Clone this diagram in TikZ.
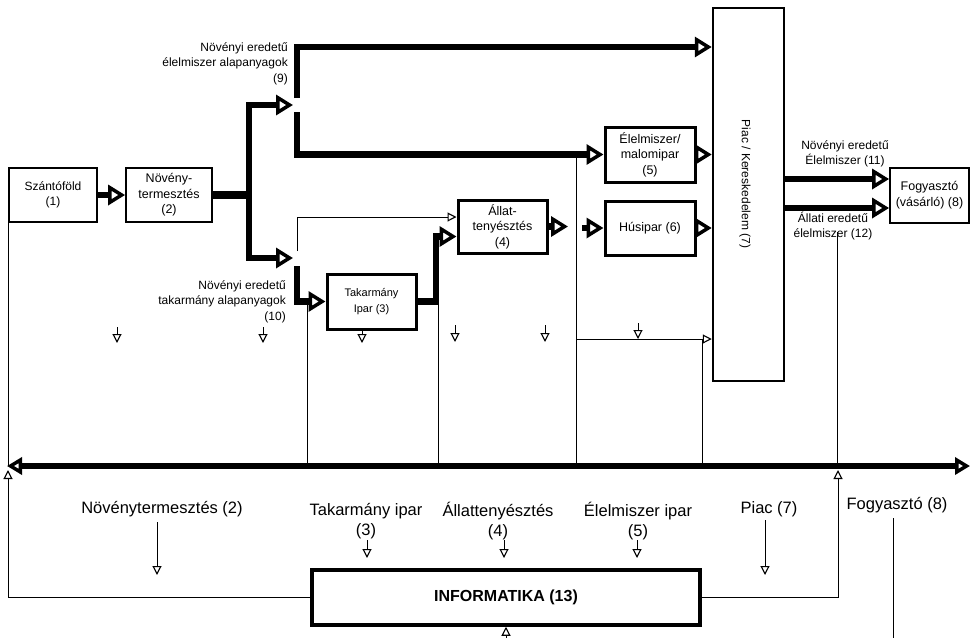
\documentclass[tikz,border=0pt]{standalone}
\usepackage{fontspec}
\setmainfont{Liberation Sans}
\usetikzlibrary{arrows.meta}
\begin{document}
\begin{tikzpicture}[x=1pt,y=-1pt,
  blk/.style={draw, line width=#1, align=center, inner sep=1pt, font=\fontsize{12.5}{15.5}\selectfont},
  blk/.default=2pt,
  thk/.style={line width=6.5pt, line join=miter},
  bigtip/.style={-{Triangle[open, length=17pt, width=20pt, line width=3.5pt]}},
  thn/.style={line width=0.9pt},
  smalltip/.style={-{Triangle[open, length=9pt, width=9pt, line width=1.1pt]}},
  lbl/.style={font=\fontsize{12}{15.5}\selectfont, inner sep=0pt},
  biglbl/.style={font=\fontsize{16.5}{20}\selectfont, align=center, inner sep=0pt}]
\useasboundingbox (0,0) rectangle (970,638);
% boxes
\node[blk=1.8pt, minimum width=88pt, minimum height=54pt, font=\fontsize{12}{15.5}\selectfont] (szf) at (53,195) {Szántóföld\\(1)};
\node[blk=1.8pt, minimum width=86pt, minimum height=54pt] (nov) at (169,195) {Növény-\\termesztés\\(2)};
\node[blk=3pt, minimum width=89pt, minimum height=55pt, font=\fontsize{11}{15.5}\selectfont] (tak) at (371.5,301.5) {Takarmány\\Ipar (3)};
\node[blk=3pt, minimum width=89pt, minimum height=53pt] (all) at (502.5,226.5) {Állat-\\tenyésztés\\(4)};
\node[blk=3pt, minimum width=90pt, minimum height=55pt] (elm) at (650,154.5) {Élelmiszer/\\malomipar\\(5)};
\node[blk=3pt, minimum width=90pt, minimum height=54pt] (hus) at (650,228) {Húsipar (6)};
\node[blk=2.5pt, minimum width=71pt, minimum height=373pt] (piac) at (748.5,194.5) {};
\node[lbl, rotate=-90] (piact) at (745,184) {Piac / Kereskedelem (7)};
\node[blk=1.8pt, minimum width=79pt, minimum height=55pt, font=\fontsize{12.5}{16}\selectfont] (fogy) at (929.5,195.5) {Fogyasztó\\(vásárló) (8)};
\node[blk=3.5pt, minimum width=388pt, minimum height=55pt, font=\fontsize{16}{20}\selectfont\bfseries] (inf) at (506,597.5) {INFORMATIKA (13)};
% labels
\node[lbl, align=right, anchor=north east] (l9) at (288,42) {Növényi eredetű\\élelmiszer alapanyagok\\(9)};
\node[lbl, align=right, anchor=north east] (l10) at (286,280) {Növényi eredetű\\takarmány alapanyagok\\(10)};
\node[lbl, align=center] (l11) at (845,154) {Növényi eredetű\\Élelmiszer (11)};
\node[lbl, align=center] (l12) at (833,226) {Állati eredetű\\élelmiszer (12)};
\node[biglbl] (b2) at (162,509) {Növénytermesztés (2)};
\node[biglbl] (b3) at (366,521) {Takarmány ipar\\(3)};
\node[biglbl] (b4) at (498,521) {Állattenyésztés\\(4)};
\node[biglbl] (b5) at (638,521) {Élelmiszer ipar\\(5)};
\node[biglbl] (b7) at (769,509) {Piac (7)};
\node[biglbl] (b8) at (897,505) {Fogyasztó (8)};
% coordinates
\coordinate (j) at (249,195);
\coordinate (a9) at (293,105);
\coordinate (a10) at (293,258);
\coordinate (u1) at (297,98);
\coordinate (u2) at (297,47);
\coordinate (u3) at (297,112);
\coordinate (d1) at (297,266);
\coordinate (d0) at (297,251);
\coordinate (k) at (436,301.5);
\coordinate (a4) at (568,226.5);
\coordinate (h0) at (582,228);
\coordinate (p1) at (784,179);
\coordinate (p2) at (784,208);
\coordinate (busL) at (7,466);
\coordinate (busR) at (970,466);
\coordinate (v1) at (307,301.5);
\coordinate (v2) at (438,301.5);
\coordinate (v3) at (576,153);
\coordinate (v4) at (576,339);
\coordinate (v5) at (702,339);
\coordinate (v6) at (837,232);
\coordinate (lb) at (8,470);
\coordinate (rb) at (838,470);
\coordinate (ib) at (506,638);
\coordinate (f8) at (893,518);
\coordinate (f8b) at (893,638);
% thick flows
\draw[thk, bigtip] (szf.east) -- (nov.west);
\draw[line width=8.5pt] (nov.east) -- (j);
\draw[thk, bigtip] (j) |- (a9);
\draw[thk, bigtip] (j) |- (a10);
\draw[thk, bigtip] (u1) -- (u2) -- (u2 -| piac.west);
\draw[thk, bigtip] (u3) |- (elm.west);
\draw[thk, bigtip] (elm.east) -- (elm.east -| piac.west);
\draw[thk, bigtip] (d1) |- (tak.west);
\draw[thn, smalltip] (d0) |- ([yshift=9.5pt]all.west);
\draw[thk, bigtip] (tak.east) -- (k) |- ([yshift=-10pt]all.west);
\draw[thk, bigtip] (all.east) -- (a4);
\draw[thk, bigtip] (h0) -- (hus.west);
\draw[thk, bigtip] (hus.east) -- (hus.east -| piac.west);
\draw[thk, bigtip] (p1) -- (p1 -| fogy.west);
\draw[thk, bigtip] (p2) -- (p2 -| fogy.west);
% bus
\draw[line width=5.5pt, {Triangle[open, length=15pt, width=17pt, line width=3.5pt]}-{Triangle[open, length=15pt, width=17pt, line width=3.5pt]}] (busL) -- (busR);
% thin verticals to bus
\draw[thn] (szf.south west) -- (szf.south west |- busL);
\draw[thn] (v1) -- (v1 |- busL);
\draw[thn] (v2) -- (v2 |- busL);
\draw[thn] (v3) -- (v3 |- busL);
\draw[thn, smalltip] (v4) -- (v4 -| piac.west);
\draw[thn] (v5) -- (v5 |- busL);
\draw[thn] (v6) -- (v6 |- busL);
% informatika loop
\draw[thn, smalltip] (inf.west) -| (lb);
\draw[thn, smalltip] (inf.east) -| (rb);
\draw[thn, smalltip] (ib) -- (inf.south);
\draw[thn] (f8) -- (f8b);
% small down arrows (middle)
\coordinate (s1) at (117,327); \coordinate (s2) at (263,327);
\coordinate (s3) at (362,329); \coordinate (s4) at (455,325);
\coordinate (s5) at (545,325); \coordinate (s6) at (638,323);
\draw[thn, smalltip] (s1) -- ++(0,16);
\draw[thn, smalltip] (s2) -- ++(0,16);
\draw[thn, smalltip] (s3) -- ++(0,14);
\draw[thn, smalltip] (s4) -- ++(0,17);
\draw[thn, smalltip] (s5) -- ++(0,17);
\draw[thn, smalltip] (s6) -- (s6 |- v4);
% bottom label arrows
\coordinate (t2) at (157,522); \coordinate (t3) at (367,540);
\coordinate (t4) at (504,540); \coordinate (t5) at (637,540);
\coordinate (t7) at (765,520);
\draw[thn, smalltip] (t2) -- ++(0,53);
\draw[thn, smalltip] (t3) -- ++(0,18);
\draw[thn, smalltip] (t4) -- ++(0,18);
\draw[thn, smalltip] (t5) -- ++(0,18);
\draw[thn, smalltip] (t7) -- ++(0,55);
\end{tikzpicture}
\end{document}
